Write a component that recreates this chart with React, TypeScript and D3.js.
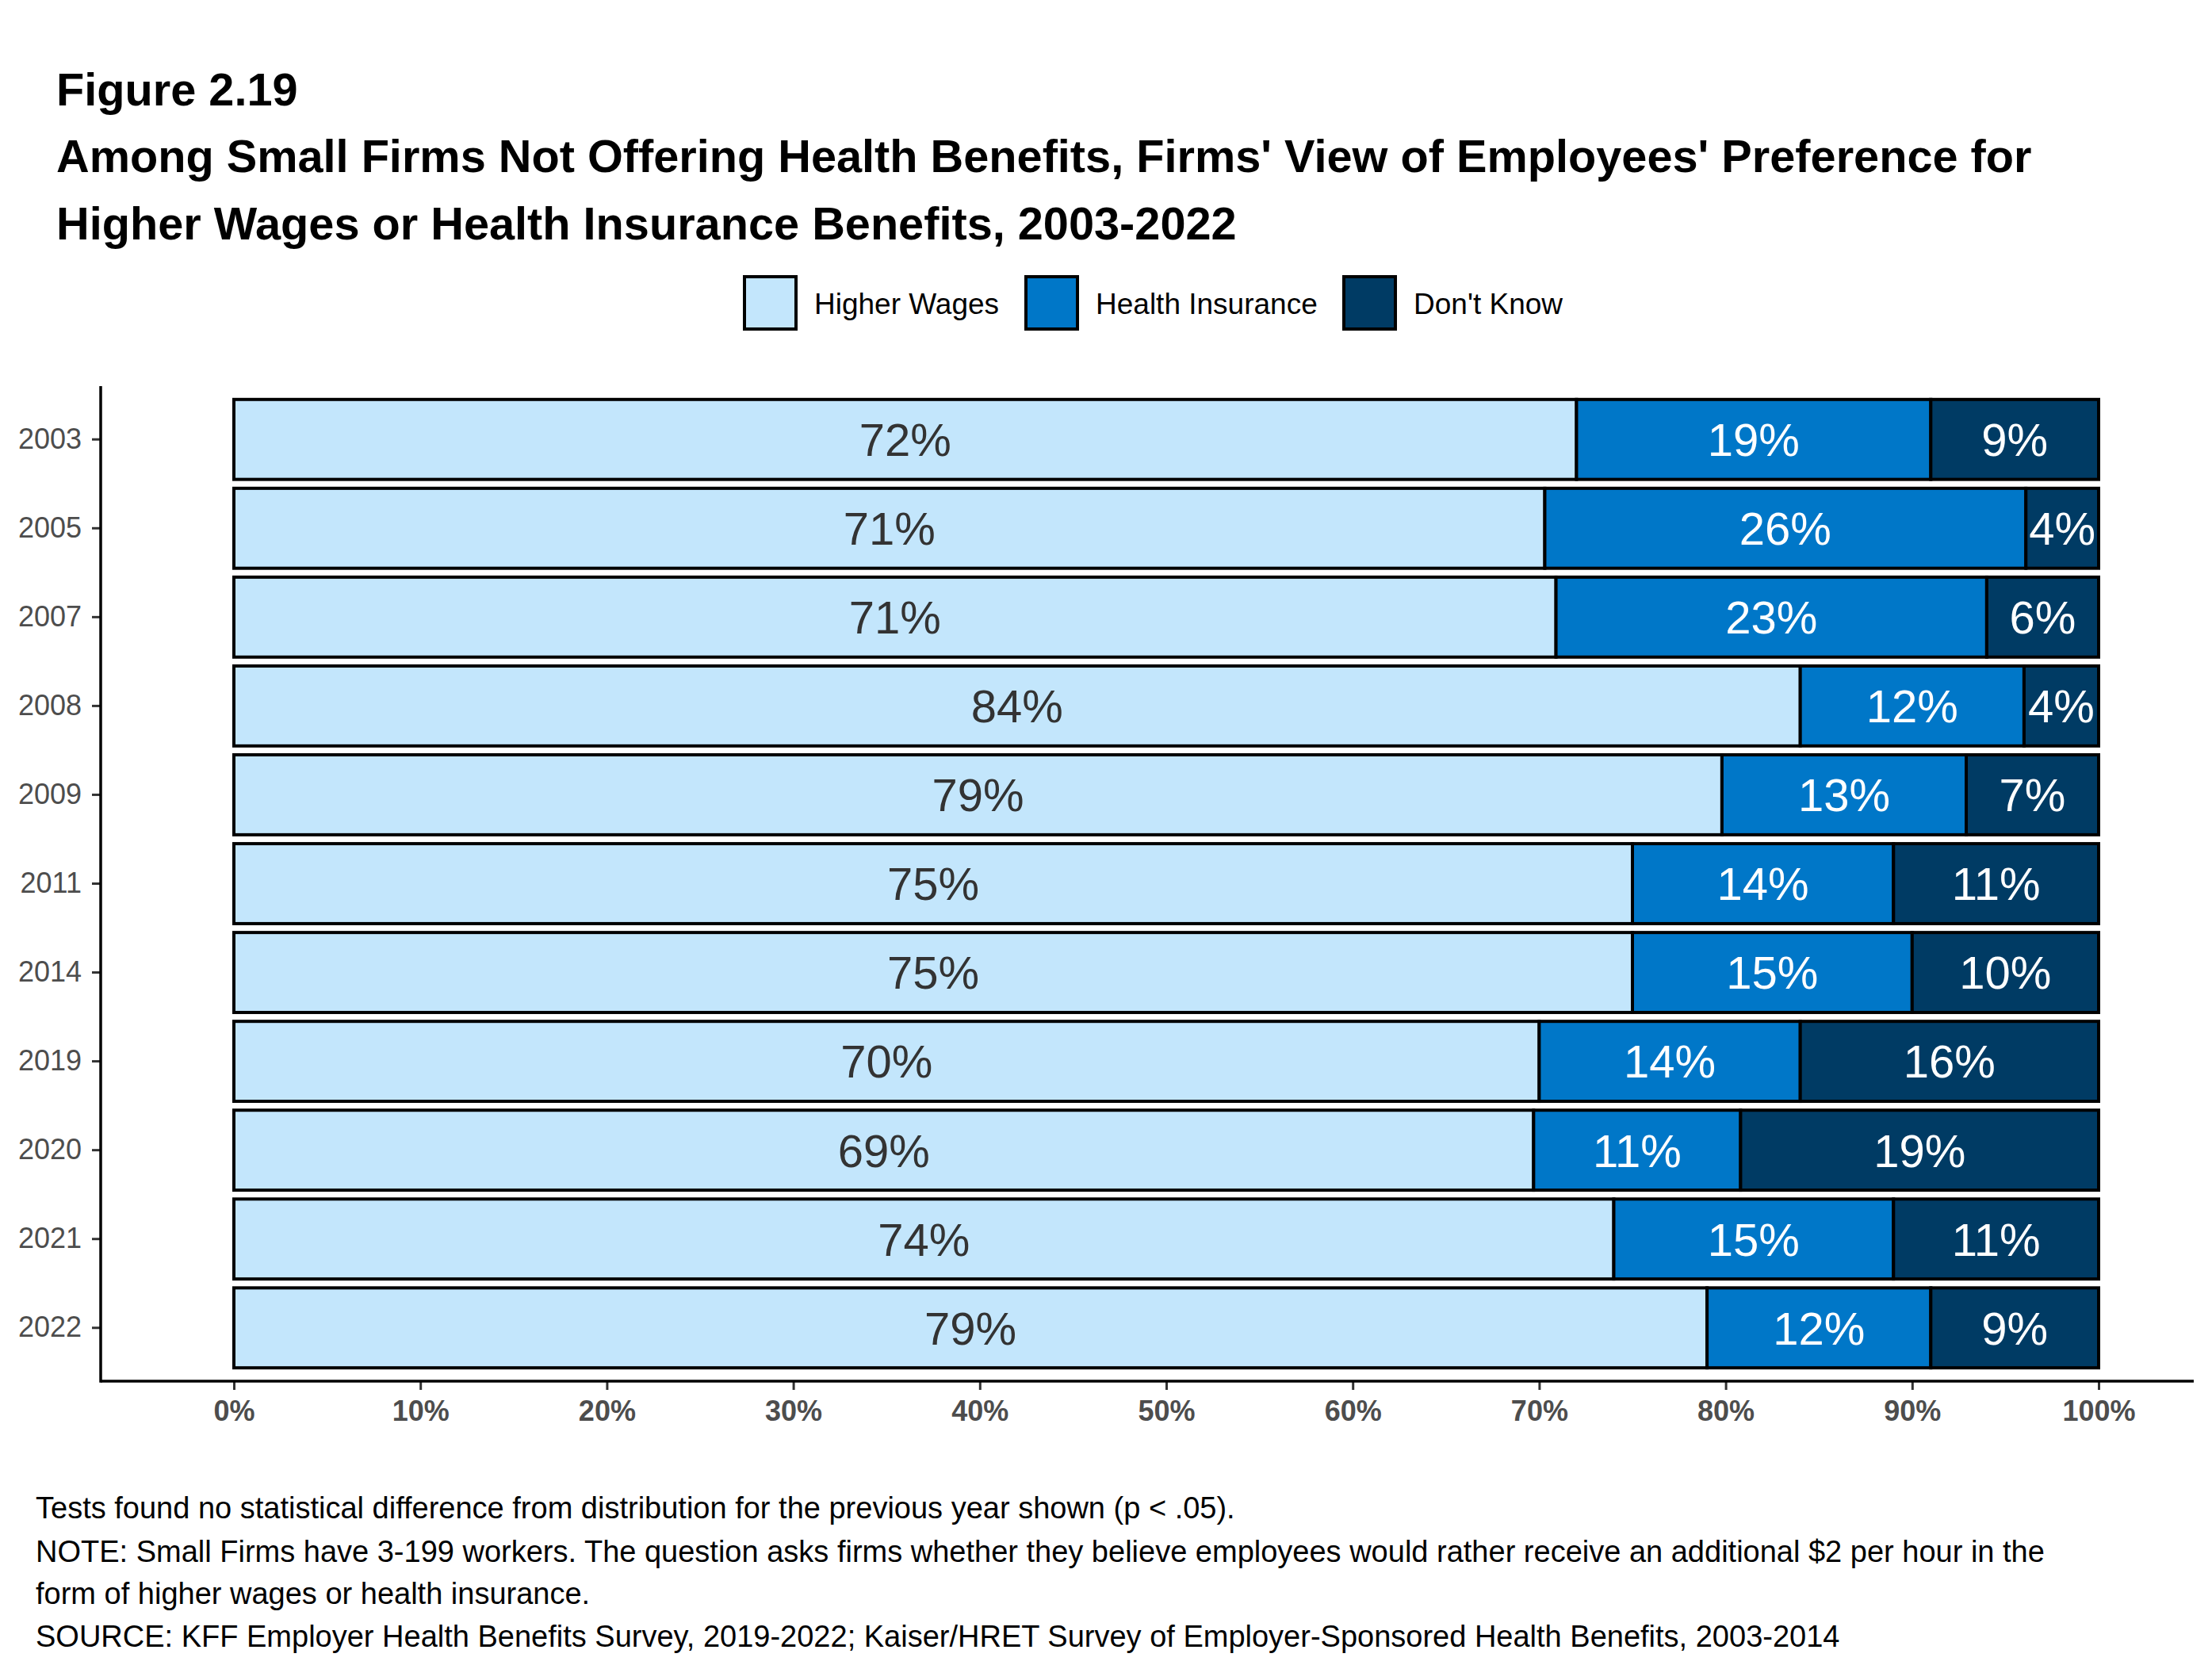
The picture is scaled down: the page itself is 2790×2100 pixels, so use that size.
import { useEffect, useRef } from 'react';
import * as d3 from 'd3';

const years = ['2003', '2005', '2007', '2008', '2009', '2011', '2014', '2019', '2020', '2021', '2022'];
const higherWages = [72.0, 70.3, 70.9, 84.0, 79.8, 75.0, 75.0, 70.0, 69.7, 74.0, 79.0];
const healthInsurance = [19.0, 25.8, 23.1, 12.0, 13.1, 14.0, 15.0, 14.0, 11.1, 15.0, 12.0];
const dontKnow = [9.0, 3.9, 6.0, 4.0, 7.1, 11.0, 10.0, 16.0, 19.2, 11.0, 9.0];

const hwLabels = ['72%', '71%', '71%', '84%', '79%', '75%', '75%', '70%', '69%', '74%', '79%'];
const hiLabels = ['19%', '26%', '23%', '12%', '13%', '14%', '15%', '14%', '11%', '15%', '12%'];
const dkLabels = ['9%', '4%', '6%', '4%', '7%', '11%', '10%', '16%', '19%', '11%', '9%'];

const seriesNames = ['Higher Wages', 'Health Insurance', "Don't Know"];
const xTicks = [0, 10, 20, 30, 40, 50, 60, 70, 80, 90, 100];

const titleLines = [
  'Figure 2.19',
  "Among Small Firms Not Offering Health Benefits, Firms' View of Employees' Preference for",
  'Higher Wages or Health Insurance Benefits, 2003-2022',
];
const notes = [
  'Tests found no statistical difference from distribution for the previous year shown (p < .05).',
  'NOTE: Small Firms have 3-199 workers. The question asks firms whether they believe employees would rather receive an additional $2 per hour in the',
  'form of higher wages or health insurance.',
  'SOURCE: KFF Employer Health Benefits Survey, 2019-2022; Kaiser/HRET Survey of Employer-Sponsored Health Benefits, 2003-2014',
];

const colors = ['#C3E6FC', '#0077C8', '#003B64'];
const labelColors = ['#333333', '#ffffff', '#ffffff'];
const FONT = '"Liberation Sans", Arial, sans-serif';

export default function App() {
  const ref = useRef<SVGSVGElement | null>(null);

  useEffect(() => {
    const svg = d3.select(ref.current);
    svg.selectAll('*').remove();

    const W = 2790;
    const H = 2100;
    svg.attr('width', W).attr('height', H).attr('font-family', FONT);
    svg.append('rect').attr('width', W).attr('height', H).attr('fill', '#fff');

    // title
    const titleY = [133, 217, 302];
    svg.selectAll('.title')
      .data(titleLines)
      .enter()
      .append('text')
      .attr('class', 'title')
      .attr('x', 71)
      .attr('y', (_, i) => titleY[i])
      .attr('font-size', 57.7)
      .attr('font-weight', 'bold')
      .attr('fill', '#000')
      .text(d => d);

    // legend
    const legendBoxX = [937, 1292, 1693];
    const lg = svg.append('g');
    seriesNames.forEach((name, i) => {
      lg.append('rect')
        .attr('x', legendBoxX[i] + 2)
        .attr('y', 349)
        .attr('width', 65)
        .attr('height', 66)
        .attr('fill', colors[i])
        .attr('stroke', '#000')
        .attr('stroke-width', 4);
      lg.append('text')
        .attr('x', legendBoxX[i] + 90)
        .attr('y', 396)
        .attr('font-size', 37)
        .attr('fill', '#000')
        .text(name);
    });

    const rows = years.map((y, i) => ({
      year: y,
      'Higher Wages': higherWages[i],
      'Health Insurance': healthInsurance[i],
      "Don't Know": dontKnow[i],
    }));
    const labels = [hwLabels, hiLabels, dkLabels];

    const x = d3.scaleLinear().domain([0, 100]).range([295, 2647]);
    const y = d3.scaleBand()
      .domain(years)
      .range([487, 1742])
      .paddingInner(0.1)
      .paddingOuter(0.15);

    const stack = d3.stack<any>().keys(seriesNames);
    const series = stack(rows);

    const g = svg.append('g');
    series.forEach((s, si) => {
      g.selectAll(`.seg-${si}`)
        .data(s)
        .enter()
        .append('rect')
        .attr('class', `seg-${si}`)
        .attr('x', d => x(d[0]))
        .attr('y', d => y(d.data.year)!)
        .attr('width', d => x(d[1]) - x(d[0]))
        .attr('height', y.bandwidth())
        .attr('fill', colors[si])
        .attr('stroke', '#000')
        .attr('stroke-width', 4);
    });
    series.forEach((s, si) => {
      g.selectAll(`.lab-${si}`)
        .data(s)
        .enter()
        .append('text')
        .attr('class', `lab-${si}`)
        .attr('x', d => (x(d[0]) + x(d[1])) / 2)
        .attr('y', d => y(d.data.year)! + y.bandwidth() / 2)
        .attr('dy', '0.36em')
        .attr('text-anchor', 'middle')
        .attr('font-size', 58)
        .attr('fill', labelColors[si])
        .text((_, i) => labels[si][i]);
    });

    // axes
    const xAxis = svg.append('g')
      .attr('transform', 'translate(0,1742)')
      .call(d3.axisBottom(x).tickValues(xTicks).tickFormat(d => `${d}%`).tickSize(11).tickPadding(13));
    xAxis.select('.domain').remove();
    xAxis.selectAll('line').attr('stroke', '#333').attr('stroke-width', 3);
    xAxis.selectAll('text')
      .attr('font-family', FONT)
      .attr('font-size', 36)
      .attr('font-weight', 'bold')
      .attr('fill', '#4d4d4d');

    const yAxis = svg.append('g')
      .attr('transform', 'translate(127,0)')
      .call(d3.axisLeft(y).tickSize(11).tickPadding(13));
    yAxis.select('.domain').remove();
    yAxis.selectAll('line').attr('stroke', '#333').attr('stroke-width', 3);
    yAxis.selectAll('text')
      .attr('font-family', FONT)
      .attr('font-size', 36)
      .attr('fill', '#4d4d4d');

    svg.append('line')
      .attr('x1', x(-7.15)).attr('x2', x(105.1))
      .attr('y1', 1742).attr('y2', 1742)
      .attr('stroke', '#000').attr('stroke-width', 3.5);
    svg.append('line')
      .attr('x1', 127).attr('x2', 127)
      .attr('y1', 487).attr('y2', 1743.75)
      .attr('stroke', '#000').attr('stroke-width', 3.5);

    // footnotes
    const noteY = [1915, 1970, 2023, 2077];
    svg.selectAll('.note')
      .data(notes)
      .enter()
      .append('text')
      .attr('class', 'note')
      .attr('x', 45)
      .attr('y', (_, i) => noteY[i])
      .attr('font-size', 38)
      .attr('fill', '#000')
      .text(d => d);
  }, []);

  return <svg ref={ref} style={{ position: 'absolute', left: 0, top: 0, display: 'block' }} />;
}
